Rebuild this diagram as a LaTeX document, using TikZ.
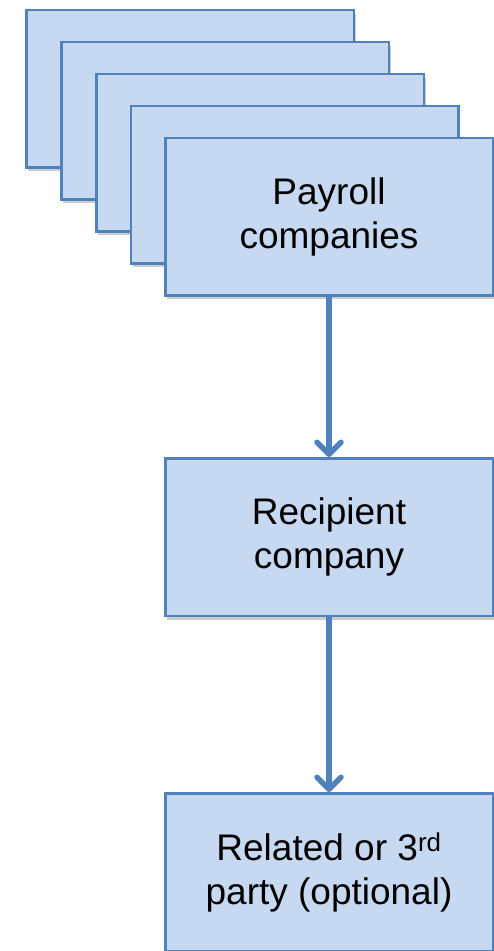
\documentclass[tikz,border=0pt]{standalone}
\usepackage{fontspec}
\setmainfont{Liberation Sans}
\usetikzlibrary{arrows.meta,shadows}

\definecolor{boxfill}{HTML}{C6D9F1}
\definecolor{boxline}{HTML}{4F81BD}

\tikzset{
  firm/.style={draw=boxline, line width=2.5pt, fill=boxfill,
    minimum width=327.5pt, minimum height=157.5pt, inner sep=0pt,
    align=center, font=\fontsize{37pt}{44pt}\selectfont,
    drop shadow={shadow xshift=2pt, shadow yshift=-4pt, fill=black, opacity=.2}},
  link/.style={draw=boxline, line width=5.5pt,
    -{Straight Barb[length=12pt, width=24pt, round]}}
}

\begin{document}
\begin{tikzpicture}[x=1pt,y=-1pt]
\useasboundingbox (0,0) rectangle (494,951);
\clip (0,0) rectangle (494,951);
% stack of payroll companies
\node[firm] (pay1) at (190,88.5) {};
\node[firm] (pay2) at (225,120.5) {};
\node[firm] (pay3) at (260,152.5) {};
\node[firm] (pay4) at (294.5,184.5) {};
\node[firm] (pay)  at (329,216.5) {Payroll\\companies};
% flow down
\node[firm] (rec)   at (329,537) {Recipient\\company};
\node[firm] (party) at (329,872) {Related or 3\textsuperscript{rd}\\party (optional)};
\draw[link] (pay) -- (rec);
\draw[link] (rec) -- (party);
\end{tikzpicture}
\end{document}
